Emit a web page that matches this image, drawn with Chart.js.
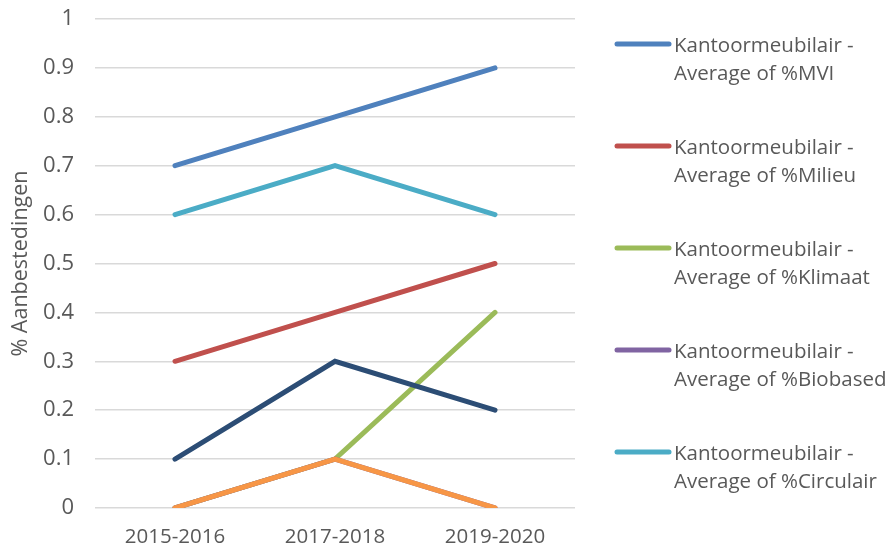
<!DOCTYPE html>
<html>
<head>
<meta charset="utf-8">
<script src="https://cdn.jsdelivr.net/npm/chart.js@4/dist/chart.umd.min.js"></script>
<style>
  html, body { margin: 0; padding: 0; background: #fff; }
  #wrap { width: 891px; height: 549px; position: relative; }
</style>
</head>
<body>
<div id="wrap"><canvas id="c" width="891" height="549"></canvas></div>
<script>
// chart data
const periods = ['2015-2016', '2017-2018', '2019-2020'];
const mvi       = [0.7, 0.8, 0.9];
const milieu    = [0.3, 0.4, 0.5];
const klimaat   = [0.0, 0.1, 0.4];
const biobased  = [0.0, 0.1, 0.0];
const circulair = [0.6, 0.7, 0.6];
const sociaal   = [0.0, 0.1, 0.0];
const innovatie = [0.1, 0.3, 0.2];

const seriesNames = [
  'Kantoormeubilair - Average of %MVI',
  'Kantoormeubilair - Average of %Milieu',
  'Kantoormeubilair - Average of %Klimaat',
  'Kantoormeubilair - Average of %Biobased',
  'Kantoormeubilair - Average of %Circulair',
  'Kantoormeubilair - Average of %Sociaal',
  'Kantoormeubilair - Average of %Innovatie'
];
const seriesValues = [mvi, milieu, klimaat, biobased, circulair, sociaal, innovatie];
const seriesColors = ['#4f81bd', '#c0504d', '#9bbb59', '#8064a2', '#4bacc6', '#f79646', '#2c4d75'];
const legendCount = 5; // only the first five fit in the legend box

const FONT = '"Open Sans", "Noto Sans", sans-serif';
const TXT = '#595959';

// legend drawn by hand: two-line labels like the original
const sideLegend = {
  id: 'sideLegend',
  afterDraw(chart) {
    const ctx = chart.ctx;
    ctx.save();
    ctx.font = '20.5px ' + FONT;
    ctx.fillStyle = TXT;
    ctx.textBaseline = 'middle';
    ctx.lineCap = 'round';
    for (let i = 0; i < legendCount; i++) {
      const y = 44 + i * 102;
      ctx.strokeStyle = seriesColors[i];
      ctx.lineWidth = 5;
      ctx.beginPath();
      ctx.moveTo(617, y);
      ctx.lineTo(669, y);
      ctx.stroke();
      const parts = seriesNames[i].split(' - ');
      ctx.fillText(parts[0] + ' -', 674, y + 2);
      ctx.fillText(parts[1], 674, y + 30);
    }
    ctx.restore();
  }
};

new Chart(document.getElementById('c'), {
  type: 'line',
  data: {
    labels: periods,
    datasets: seriesValues.map((vals, i) => ({
      label: seriesNames[i],
      data: vals,
      borderColor: seriesColors[i],
      backgroundColor: seriesColors[i],
      borderWidth: 5,
      borderCapStyle: 'round',
      pointRadius: 0,
      tension: 0,
      order: 10 - i
    }))
  },
  options: {
    responsive: false,
    animation: false,
    layout: { padding: { left: 8, right: 316, top: 19, bottom: 0 } },
    plugins: {
      legend: { display: false },
      tooltip: { enabled: false }
    },
    scales: {
      x: {
        offset: true,
        grid: { display: false, drawTicks: false },
        border: { display: false },
        ticks: { color: TXT, font: { family: FONT, size: 20.5 }, padding: 17, maxRotation: 0 },
        afterFit: s => { s.height = 41; s.paddingLeft = 0; s.paddingRight = 0; }
      },
      y: {
        min: 0, max: 1,
        grid: { color: '#d9d9d9', lineWidth: 1.5, drawTicks: false },
        border: { display: false },
        title: { display: true, text: '% Aanbestedingen', color: TXT, font: { family: FONT, size: 21.5 }, padding: 0 },
        ticks: {
          stepSize: 0.1,
          color: TXT,
          font: { family: FONT, size: 22 },
          padding: 21,
          callback: v => String(Math.round(v * 10) / 10)
        },
        afterFit: s => { s.width = 87; s.paddingTop = 0; s.paddingBottom = 0; }
      }
    }
  },
  plugins: [sideLegend]
});
</script>
</body>
</html>
